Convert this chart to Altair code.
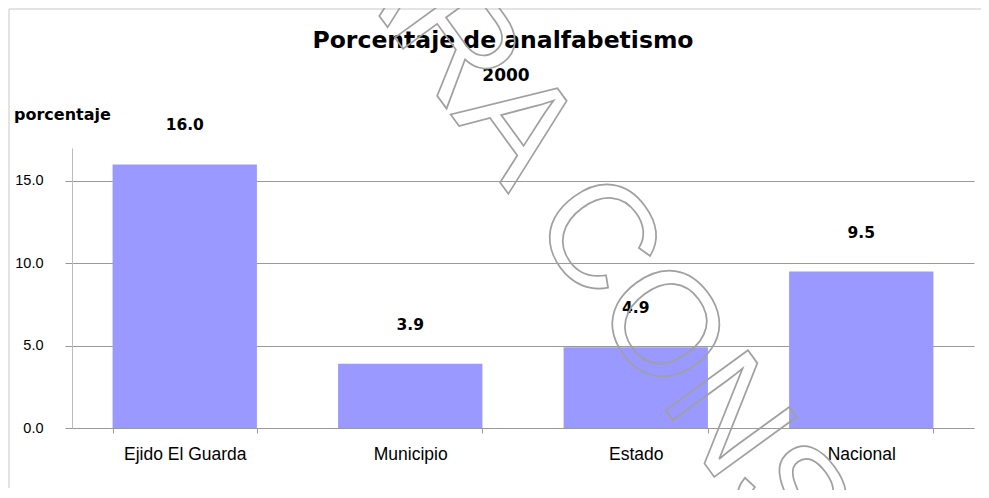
import altair as alt
import pandas as pd

categories = ["Ejido El Guarda", "Municipio", "Estado", "Nacional"]
values = [16.0, 3.9, 4.9, 9.5]
y_ticks = [0, 5, 10, 15]
title_text = "Porcentaje de analfabetismo"
subtitle_text = "2000"
y_title = "porcentaje"
watermark = "PARA CONSULTA"

df = pd.DataFrame({"categoria": categories, "valor": values})

W, H = 902, 280

x_enc = alt.X(
    "categoria:N", sort=categories, title=None,
    scale=alt.Scale(paddingInner=0.36, paddingOuter=0.18),
    axis=alt.Axis(labelAngle=0, labelFont="Liberation Sans", labelFontSize=17.5,
                  labelColor="black", labelPadding=12, tickBand="extent",
                  tickSize=5, tickColor="#999999", domainColor="#999999", grid=False),
)
y_enc = alt.Y(
    "valor:Q", title=None, scale=alt.Scale(domain=[0, 17], nice=False),
    axis=alt.Axis(values=y_ticks, format=".1f", labelFont="Liberation Sans",
                  labelFontSize=14.5, labelColor="black", labelPadding=22, tickSize=7,
                  gridColor="#9a9a9a", domainColor="#bbbbbb", tickColor="#999999"),
)

base = alt.Chart(df)
bars = base.mark_bar(color="#9999FF").encode(x=x_enc, y=y_enc)
labels = base.mark_text(dy=-34, baseline="alphabetic", font="DejaVu Sans",
                        fontWeight="bold", fontSize=15.5, color="black").encode(
    x=alt.X("categoria:N", sort=categories),
    y=alt.Y("valor:Q"),
    text=alt.Text("valor:Q", format=".1f"),
)

title_layer = alt.Chart(pd.DataFrame({"t": [title_text]})).mark_text(
    font="DejaVu Sans", fontWeight="bold", fontSize=23.5, baseline="alphabetic",
    align="center", color="black").encode(x=alt.value(431), y=alt.value(-100), text="t:N")
sub_layer = alt.Chart(pd.DataFrame({"t": [subtitle_text]})).mark_text(
    font="DejaVu Sans", fontWeight="bold", fontSize=17, baseline="alphabetic",
    align="center", color="black").encode(x=alt.value(434), y=alt.value(-67), text="t:N")
ytitle_layer = alt.Chart(pd.DataFrame({"t": [y_title]})).mark_text(
    font="DejaVu Sans", fontWeight="bold", fontSize=16, baseline="alphabetic",
    align="left", color="black").encode(x=alt.value(-58), y=alt.value(-28), text="t:N")

wm_layer = alt.Chart(pd.DataFrame({"t": [watermark]})).mark_text(
    font="Liberation Sans", fontSize=148, angle=54, align="center", baseline="middle",
    fillOpacity=0, stroke="#a0a0a0", strokeWidth=1.7).encode(
    x=alt.value(597), y=alt.value(192), text="t:N")

border_left = alt.Chart(pd.DataFrame({"a": [0]})).mark_rule(color="#c8c8c8").encode(
    x=alt.value(-63), y=alt.value(-139), y2=alt.value(340))
border_top = alt.Chart(pd.DataFrame({"a": [0]})).mark_rule(color="#c8c8c8").encode(
    x=alt.value(-63), x2=alt.value(909), y=alt.value(-139))

chart = alt.layer(
    border_left, border_top, bars, labels, title_layer, sub_layer, ytitle_layer, wm_layer
).properties(
    width=W, height=H, autosize="none",
    padding={"left": 64, "top": 140, "right": 7, "bottom": 62},
).configure_view(strokeWidth=0)

chart.save("out.html", embed_options={"renderer": "svg", "actions": False})
